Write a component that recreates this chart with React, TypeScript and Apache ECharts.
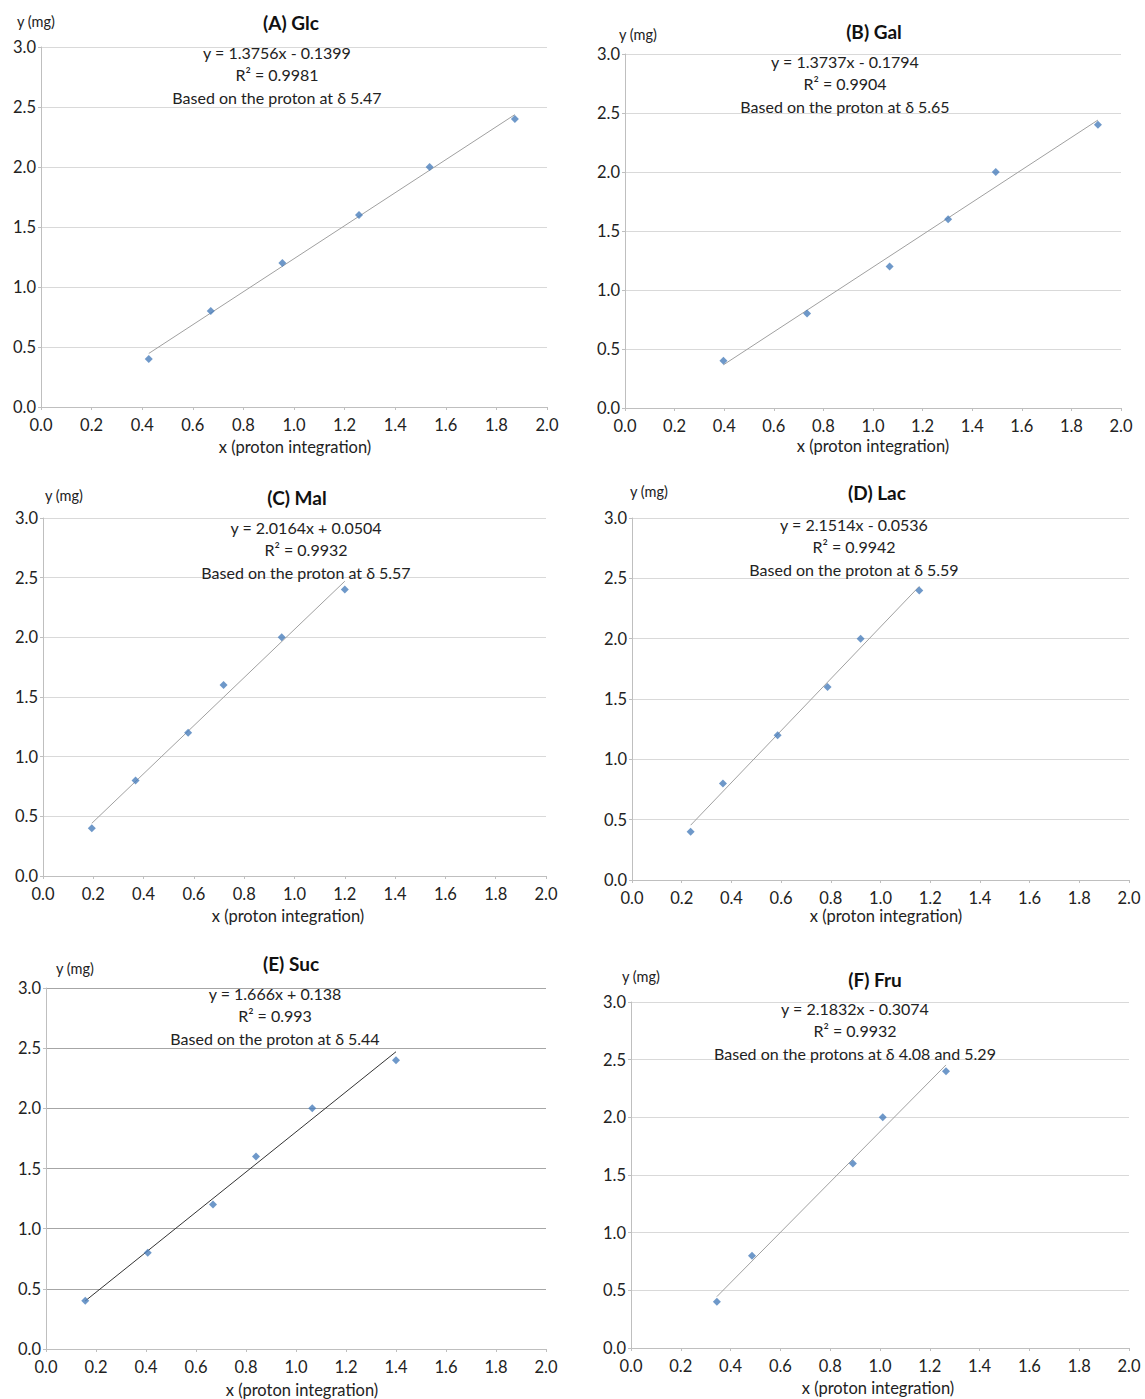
import React, { useEffect, useRef } from "react";
import * as echarts from "echarts";

// ---- data ----
const panelTitles = ["(A) Glc", "(B) Gal", "(C) Mal", "(D) Lac", "(E) Suc", "(F) Fru"];
const equations = [
  "y = 1.3756x - 0.1399",
  "y = 1.3737x - 0.1794",
  "y = 2.0164x + 0.0504",
  "y = 2.1514x - 0.0536",
  "y = 1.666x + 0.138",
  "y = 2.1832x - 0.3074",
];
const r2Texts = ["R² = 0.9981", "R² = 0.9904", "R² = 0.9932", "R² = 0.9942", "R² = 0.993", "R² = 0.9932"];
const basedTexts = [
  "Based on the proton at δ 5.47",
  "Based on the proton at δ 5.65",
  "Based on the proton at δ 5.57",
  "Based on the proton at δ 5.59",
  "Based on the proton at δ 5.44",
  "Based on the protons at δ 4.08 and 5.29",
];
const slopes = [1.3756, 1.3737, 2.0164, 2.1514, 1.666, 2.1832];
const intercepts = [-0.1399, -0.1794, 0.0504, -0.0536, 0.138, -0.3074];

const glcX = [0.426, 0.671, 0.954, 1.257, 1.536, 1.873];
const glcY = [0.4, 0.8, 1.2, 1.6, 2.0, 2.4];
const galX = [0.397, 0.734, 1.067, 1.303, 1.495, 1.907];
const galY = [0.4, 0.8, 1.2, 1.6, 2.0, 2.4];
const malX = [0.194, 0.368, 0.577, 0.718, 0.949, 1.2];
const malY = [0.4, 0.8, 1.2, 1.6, 2.0, 2.4];
const lacX = [0.236, 0.366, 0.586, 0.787, 0.92, 1.156];
const lacY = [0.4, 0.8, 1.2, 1.6, 2.0, 2.4];
const sucX = [0.157, 0.407, 0.668, 0.84, 1.065, 1.4];
const sucY = [0.4, 0.8, 1.2, 1.6, 2.0, 2.4];
const fruX = [0.345, 0.486, 0.891, 1.011, 1.265];
const fruY = [0.4, 0.8, 1.6, 2.0, 2.4];

const xTicks = [0, 0.2, 0.4, 0.6, 0.8, 1.0, 1.2, 1.4, 1.6, 1.8, 2.0];
const yTicks = [0, 0.5, 1.0, 1.5, 2.0, 2.5, 3.0];
const xAxisName = "x (proton integration)";
const yAxisName = "y (mg)";

const seriesX = [glcX, galX, malX, lacX, sucX, fruX];
const seriesY = [glcY, galY, malY, lacY, sucY, fruY];

// ---- layout (pixels) ----
const grids = [
  { left: 41, top: 47, width: 506, height: 360 },
  { left: 625, top: 54, width: 496, height: 354 },
  { left: 43, top: 518, width: 503, height: 358 },
  { left: 632, top: 518, width: 497, height: 362 },
  { left: 46, top: 988, width: 500, height: 361 },
  { left: 631, top: 1002, width: 498, height: 346 },
];
const titlePos = [
  [291, 22], [874, 31], [297, 497], [877, 492], [291, 963], [875, 979],
];
const yNamePos = [
  [36, 21], [638, 34], [64, 495], [649, 491], [75, 968], [641, 976],
];
const eqPos = [
  [277, 52], [845, 61], [306, 527], [854, 524], [275, 993], [855, 1008],
];
const xNamePos = [
  [295, 447], [873, 446], [288, 916], [886, 916], [302, 1390], [878, 1388],
];

const FONT = "Lato, 'Open Sans', sans-serif";

export default function App() {
  const ref = useRef<HTMLDivElement>(null);
  useEffect(() => {
    document.body.style.margin = "0";
    const chart = echarts.init(ref.current!, null, { renderer: "svg" });
    const xAxes: any[] = [];
    const yAxes: any[] = [];
    const series: any[] = [];
    const graphics: any[] = [];
    grids.forEach((g, i) => {
      const dark = i === 4;
      xAxes.push({
        type: "value",
        gridIndex: i,
        min: xTicks[0],
        max: xTicks[xTicks.length - 1],
        interval: 0.2,
        axisLine: { show: true, onZero: false, lineStyle: { color: "#bfbfbf", width: 1 } },
        axisTick: { show: true, length: 3, lineStyle: { color: "#bfbfbf" } },
        splitLine: { show: false },
        axisLabel: {
          color: "#222",
          fontSize: 16.5,
          fontFamily: FONT,
          margin: 9,
          formatter: (v: number) => v.toFixed(1),
        },
      });
      yAxes.push({
        type: "value",
        gridIndex: i,
        min: yTicks[0],
        max: yTicks[yTicks.length - 1],
        interval: 0.5,
        axisLine: { show: true, onZero: false, lineStyle: { color: "#bfbfbf", width: 1 } },
        axisTick: { show: true, length: 3, lineStyle: { color: "#bfbfbf" } },
        splitLine: { show: true, lineStyle: { color: dark ? "#a6a6a6" : "#d9d9d9", width: 1 } },
        axisLabel: {
          color: "#222",
          fontSize: 16.5,
          fontFamily: FONT,
          margin: 5,
          formatter: (v: number) => v.toFixed(1),
        },
      });
      const xs = seriesX[i];
      const ys = seriesY[i];
      const xmin = Math.min(...xs);
      const xmax = Math.max(...xs);
      series.push({
        type: "line",
        xAxisIndex: i,
        yAxisIndex: i,
        data: [
          [xmin, slopes[i] * xmin + intercepts[i]],
          [xmax, slopes[i] * xmax + intercepts[i]],
        ],
        symbol: "none",
        lineStyle: { color: dark ? "#333333" : "#a0a0a0", width: 1 },
        silent: true,
        z: 2,
      });
      series.push({
        type: "scatter",
        xAxisIndex: i,
        yAxisIndex: i,
        data: xs.map((x, k) => [x, ys[k]]),
        symbol: "diamond",
        symbolSize: 8,
        itemStyle: { color: "#4a7ebb" },
        z: 3,
      });
      graphics.push({
        type: "text",
        x: titlePos[i][0],
        y: titlePos[i][1],
        style: {
          text: panelTitles[i],
          fontSize: 19,
          fontWeight: "bold",
          fontFamily: FONT,
          fill: "#111",
          align: "center",
          verticalAlign: "middle",
        },
      });
      graphics.push({
        type: "text",
        x: yNamePos[i][0],
        y: yNamePos[i][1],
        style: {
          text: yAxisName,
          fontSize: 14.5,
          fontFamily: FONT,
          fill: "#222",
          align: "center",
          verticalAlign: "middle",
        },
      });
      graphics.push({
        type: "text",
        x: xNamePos[i][0],
        y: xNamePos[i][1],
        style: {
          text: xAxisName,
          fontSize: 16.5,
          fontFamily: FONT,
          fill: "#222",
          align: "center",
          verticalAlign: "middle",
        },
      });
      [equations[i], r2Texts[i], basedTexts[i]].forEach((t, k) => {
        graphics.push({
          type: "text",
          x: eqPos[i][0],
          y: eqPos[i][1] + k * 22.5,
          z: 10,
          style: {
            text: t,
            fontSize: 16,
            fontFamily: FONT,
            fill: "#222",
            align: "center",
            verticalAlign: "middle",
          },
        });
      });
    });
    chart.setOption({
      animation: false,
      backgroundColor: "#ffffff",
      grid: grids.map((g) => ({ ...g, containLabel: false })),
      xAxis: xAxes,
      yAxis: yAxes,
      series,
      graphic: graphics,
    });
    return () => chart.dispose();
  }, []);
  return <div ref={ref} style={{ width: 1145, height: 1399 }} />;
}
